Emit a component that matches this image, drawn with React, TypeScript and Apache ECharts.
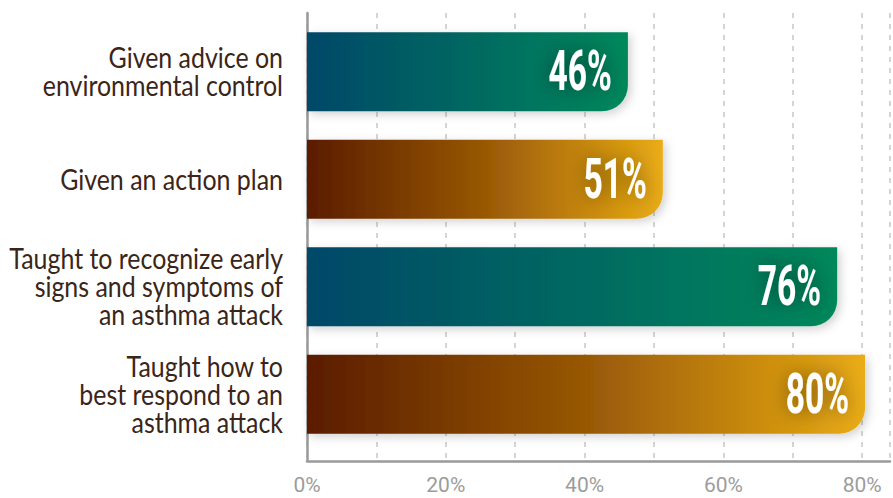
import React, { useEffect, useRef } from "react";
import * as echarts from "echarts";

const categories = [
  "Given advice on\nenvironmental control",
  "Given an action plan",
  "Taught to recognize early\nsigns and symptoms of\nan asthma attack",
  "Taught how to\nbest respond to an\nasthma attack",
];
const values = [46, 51, 76, 80];
const tickLabels = [0, 20, 40, 60, 80];

const tealGrad = () =>
  new echarts.graphic.LinearGradient(0, 0, 1, 0, [
    { offset: 0, color: "#004868" },
    { offset: 1, color: "#00885a" },
  ]);
const goldGrad = () =>
  new echarts.graphic.LinearGradient(0, 0, 1, 0, [
    { offset: 0, color: "#5a1c00" },
    { offset: 0.5, color: "#985806" },
    { offset: 1, color: "#eaac14" },
  ]);

export default function App() {
  const ref = useRef<HTMLDivElement>(null);
  useEffect(() => {
    if (!ref.current) return;
    const chart = echarts.init(ref.current, undefined, { renderer: "svg" });
    const LEFT = 307;
    const RIGHT = -1;
    chart.setOption({
      animation: false,
      backgroundColor: "#ffffff",
      grid: [
        { left: LEFT, right: RIGHT, top: 13, bottom: 37 },
        { left: LEFT, right: RIGHT, top: 18, bottom: 50 },
      ],
      xAxis: [
        {
          gridIndex: 0,
          type: "value",
          min: 0,
          max: 84,
          interval: 10,
          axisLine: { show: true, lineStyle: { color: "#9a9a9a", width: 2.5 } },
          axisTick: { show: false },
          axisLabel: {
            color: "#9c9c9c",
            fontSize: 21,
            fontFamily: "Roboto",
            margin: 13,
            formatter: (v: number) => (tickLabels.includes(v) ? v + "%" : ""),
          },
          splitLine: {
            show: true,
            lineStyle: { color: "#c8c8c8", width: 1.5, type: [5, 6] },
          },
        },
        {
          gridIndex: 1,
          type: "value",
          min: 0,
          max: 84,
          show: false,
        },
      ],
      yAxis: [
        {
          gridIndex: 0,
          type: "value",
          min: 0,
          max: 1,
          axisLine: { show: true, lineStyle: { color: "#9a9a9a", width: 2.5 } },
          axisTick: { show: false },
          axisLabel: { show: false },
          splitLine: { show: false },
        },
        {
          gridIndex: 1,
          type: "category",
          inverse: true,
          data: categories,
          axisLine: { show: false },
          axisTick: { show: false },
          axisLabel: { show: false },
        },
      ],
      series: [
        {
          type: "bar",
          xAxisIndex: 1,
          yAxisIndex: 1,
          barWidth: 79,
          data: values.map((v, i) => ({
            value: v,
            itemStyle: {
              color: i % 2 === 0 ? tealGrad() : goldGrad(),
              borderRadius: [0, 0, 26, 0],
              shadowBlur: 10,
              shadowColor: "rgba(0,0,0,0.18)",
              shadowOffsetX: 3,
              shadowOffsetY: 3,
            },
          })),
          z: 3,
        },
        {
          type: "custom",
          name: "valueLabels",
          xAxisIndex: 1,
          yAxisIndex: 1,
          z: 5,
          data: values.map((v, i) => [v, i]),
          renderItem: (params: any, api: any) => {
            const v = api.value(0);
            const idx = api.value(1);
            const pt = api.coord([v, idx]);
            return {
              type: "text",
              x: pt[0] - 16,
              y: pt[1] - 1,
              scaleX: 0.6,
              style: {
                text: v + "%",
                fill: "#ffffff",
                font: 'bold 56px Roboto',
                align: "right",
                verticalAlign: "middle",
                textShadowColor: "rgba(0,0,0,0.45)",
                textShadowBlur: 20,
              },
            };
          },
        },
        {
          type: "custom",
          name: "categoryLabels",
          xAxisIndex: 1,
          yAxisIndex: 1,
          z: 5,
          data: categories.map((c, i) => [0, i]),
          renderItem: (params: any, api: any) => {
            const idx = api.value(1);
            const pt = api.coord([0, idx]);
            return {
              type: "text",
              x: pt[0] - 24,
              y: pt[1],
              scaleX: 0.89,
              style: {
                text: categories[idx],
                fill: "#3b2519",
                font: '28px Lato',
                lineHeight: 28,
                align: "right",
                verticalAlign: "middle",
              },
            };
          },
        },
      ],
    });
    return () => chart.dispose();
  }, []);
  return (
    <div
      ref={ref}
      style={{ position: "fixed", left: 0, top: 0, width: 893, height: 498 }}
    />
  );
}
